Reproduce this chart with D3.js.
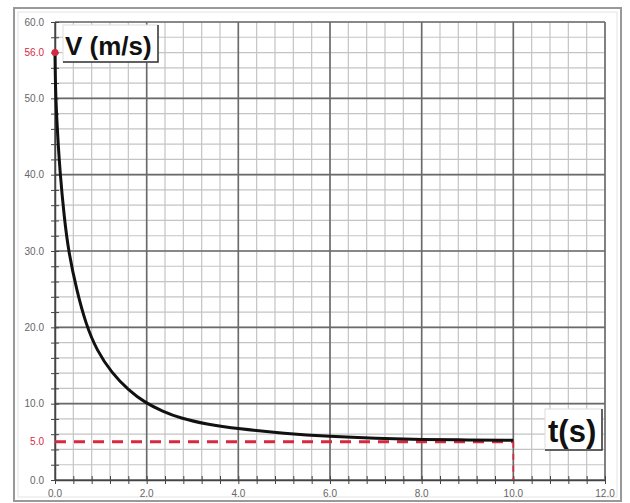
<!DOCTYPE html>
<html>
<head>
<meta charset="utf-8">
<script src="https://cdn.jsdelivr.net/npm/d3@7"></script>
<style>
  body { margin: 0; background: #fff; }
  svg { display: block; font-family: "Liberation Sans", Arial, sans-serif; }
</style>
</head>
<body>
<svg width="630" height="503"></svg>
<script>
// curve
var tValues = [0, 0.01, 0.05, 0.11, 0.2, 0.29, 0.47, 0.68, 0.91, 1.24, 1.6, 1.97, 2.35, 2.73, 3.3, 4.0, 5.0, 6.0, 7.0, 8.0, 9.0, 10.0];
var vValues = [56, 51, 45.9, 40.2, 34.5, 30.1, 24.9, 20.3, 17, 14, 11.8, 10.1, 9, 8.1, 7.3, 6.7, 6.1, 5.7, 5.45, 5.3, 5.25, 5.2];
var xTicks = [0, 2, 4, 6, 8, 10, 12];
var yTicks = [0, 10, 20, 30, 40, 50, 60];
var v0 = 56, vLimit = 5, tEnd = 10;

var svg = d3.select("svg"),
    plotLeft = 55, plotRight = 605, plotTop = 22, plotBottom = 480;

var x = d3.scaleLinear().domain([0, 12]).range([plotLeft, plotRight]);
var y = d3.scaleLinear().domain([0, 60]).range([plotBottom, plotTop]);

// outer frame
svg.append("rect")
    .attr("x", 14).attr("y", 8).attr("width", 607).attr("height", 493)
    .attr("fill", "none").attr("stroke", "#999").attr("stroke-width", 2);
svg.append("rect")
    .attr("x", 18).attr("y", 12).attr("width", 599).attr("height", 485)
    .attr("fill", "none").attr("stroke", "#e4e4e4").attr("stroke-width", 1);

// minor grid
var g = svg.append("g");
g.selectAll(".vmin").data(d3.range(0, 12.01, 0.4)).enter().append("line")
    .attr("x1", function(d) { return x(d); }).attr("x2", function(d) { return x(d); })
    .attr("y1", plotTop).attr("y2", plotBottom)
    .attr("stroke", "#c4c4c4").attr("stroke-width", 1.2);
g.selectAll(".hmin").data(d3.range(0, 60.01, 2)).enter().append("line")
    .attr("y1", function(d) { return y(d); }).attr("y2", function(d) { return y(d); })
    .attr("x1", plotLeft).attr("x2", plotRight)
    .attr("stroke", "#c4c4c4").attr("stroke-width", 1.2);

// major grid
g.selectAll(".vmaj").data(xTicks).enter().append("line")
    .attr("x1", function(d) { return x(d); }).attr("x2", function(d) { return x(d); })
    .attr("y1", plotTop).attr("y2", plotBottom)
    .attr("stroke", "#6a6a6a").attr("stroke-width", 1.6);
g.selectAll(".hmaj").data(yTicks).enter().append("line")
    .attr("y1", function(d) { return y(d); }).attr("y2", function(d) { return y(d); })
    .attr("x1", plotLeft).attr("x2", plotRight)
    .attr("stroke", "#6a6a6a").attr("stroke-width", 1.6);

// axes with small ticks
var xAxis = svg.append("g").attr("transform", "translate(0," + plotBottom + ")")
    .call(d3.axisBottom(x).tickValues(d3.range(0, 12.01, 0.4)).tickSize(0).tickFormat(""));
xAxis.select(".domain").attr("stroke", "#444").attr("stroke-width", 1.5);
xAxis.selectAll(".tick").append("line").attr("y1", -4).attr("y2", 4).attr("stroke", "#444");

var yAxis = svg.append("g").attr("transform", "translate(" + plotLeft + ",0)")
    .call(d3.axisLeft(y).tickValues(d3.range(0, 60.01, 2)).tickSize(0).tickFormat(""));
yAxis.select(".domain").attr("stroke", "#444").attr("stroke-width", 1.5);
yAxis.selectAll(".tick").append("line").attr("x1", -4).attr("x2", 4).attr("stroke", "#444");

// tick labels
svg.selectAll(".xl").data(xTicks).enter().append("text")
    .attr("x", function(d) { return x(d); }).attr("y", 497)
    .attr("text-anchor", "middle").attr("font-size", 10).attr("fill", "#666")
    .text(function(d) { return d.toFixed(1); });
svg.selectAll(".yl").data(yTicks).enter().append("text")
    .attr("x", 44).attr("y", function(d) { return y(d) + 3.5; })
    .attr("text-anchor", "end").attr("font-size", 10).attr("fill", "#666")
    .text(function(d) { return d.toFixed(1); });

// red reference lines
var red = "#d8283f";
svg.append("line")
    .attr("x1", x(0)).attr("x2", x(tEnd)).attr("y1", y(vLimit)).attr("y2", y(vLimit))
    .attr("stroke", red).attr("stroke-width", 3).attr("stroke-dasharray", "11,8");
svg.append("line")
    .attr("x1", x(tEnd)).attr("x2", x(tEnd)).attr("y1", y(vLimit)).attr("y2", y(0))
    .attr("stroke", red).attr("stroke-width", 1.8).attr("stroke-dasharray", "6,6");

// curve
var line = d3.line()
    .x(function(d) { return x(d[0]); })
    .y(function(d) { return y(d[1]); })
    .curve(d3.curveBasis);
svg.append("path")
    .datum(d3.zip(tValues, vValues))
    .attr("d", line)
    .attr("fill", "none").attr("stroke", "#111").attr("stroke-width", 3);

svg.append("circle").attr("cx", x(0)).attr("cy", y(v0)).attr("r", 3.5).attr("fill", red);
svg.append("text").attr("x", 44).attr("y", y(v0) + 3.5).attr("text-anchor", "end")
    .attr("font-size", 10).attr("fill", red).text(v0.toFixed(1));
svg.append("text").attr("x", 44).attr("y", y(vLimit) + 3.5).attr("text-anchor", "end")
    .attr("font-size", 10).attr("fill", red).text(vLimit.toFixed(1));

// axis title boxes
function titleBox(bx, by, bw, bh, label, size, tx, ty) {
    svg.append("rect").attr("x", bx).attr("y", by).attr("width", bw).attr("height", bh)
        .attr("fill", "#fff").attr("stroke", "#ddd").attr("stroke-width", 1);
    svg.append("path")
        .attr("d", "M" + (bx + bw) + "," + by + "V" + (by + bh) + "H" + bx)
        .attr("fill", "none").attr("stroke", "#333").attr("stroke-width", 1.5);
    svg.append("text").attr("x", tx).attr("y", ty)
        .attr("font-size", size).attr("font-weight", "bold").attr("fill", "#111")
        .text(label);
}
titleBox(63, 25, 95, 37, "V (m/s)", 26, 65, 55);
titleBox(545, 409, 57, 41, "t(s)", 31, 548, 442);
</script>
</body>
</html>
